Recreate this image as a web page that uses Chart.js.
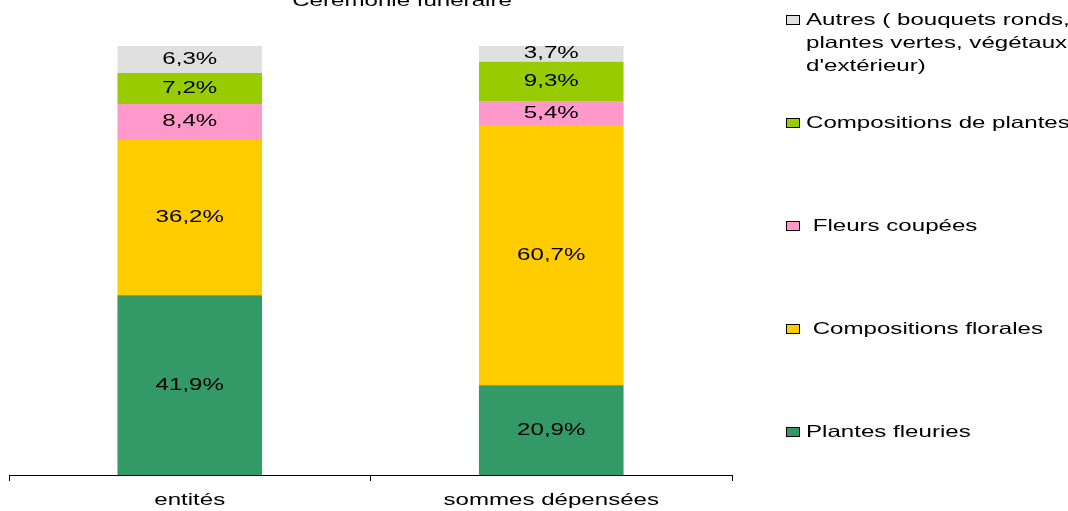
<!DOCTYPE html>
<html>
<head>
<meta charset="utf-8">
<script src="https://cdn.jsdelivr.net/npm/chart.js@4/dist/chart.umd.min.js"></script>
<style>
  html, body { margin: 0; padding: 0; background: #fff; }
  #wrap { width: 1068px; height: 511px; }
</style>
</head>
<body>
<div id="wrap"><canvas id="chart" width="1068" height="511"></canvas></div>
<script>
const title = "Cérémonie funéraire";
const categories = ["entités", "sommes dépensées"];

// series (bottom of the stack first)
const plantesFleuries = [41.9, 20.9];
const compositionsFlorales = [36.2, 60.7];
const fleursCoupees = [8.4, 5.4];
const compositionsPlantes = [7.2, 9.3];
const autres = [6.3, 3.7];

const seriesLabels = [
  ["Plantes fleuries"],
  [" Compositions florales"],
  [" Fleurs coupées"],
  ["Compositions de plantes"],
  ["Autres ( bouquets ronds,", "plantes vertes, végétaux", "d'extérieur)"],
];
const seriesColors = ["#339966", "#FFCC00", "#FF99CC", "#99CC00", "#E0E0E0"];
const seriesValues = [plantesFleuries, compositionsFlorales, fleursCoupees, compositionsPlantes, autres];

// the reference text is stretched sideways
const SX = 1.46;
const FONT = "16.5px 'Liberation Sans', Arial, sans-serif";

function stretchedText(ctx, text, x, y, align) {
  ctx.save();
  ctx.translate(x, y);
  ctx.scale(SX, 1);
  ctx.textAlign = align;
  ctx.fillText(text, 0, 0);
  ctx.restore();
}

function fmt(v) {
  return v.toFixed(1).replace(".", ",") + "%";
}

const textPlugin = {
  id: "texts",
  afterDraw(chart) {
    const ctx = chart.ctx;
    ctx.save();
    ctx.font = FONT;
    ctx.fillStyle = "#000";

    // title (cut at the top like the reference)
    ctx.textBaseline = "alphabetic";
    stretchedText(ctx, title, 402, 6, "center");

    // category labels
    const xs = chart.scales.x;
    ctx.textBaseline = "middle";
    categories.forEach((c, i) => {
      stretchedText(ctx, c, xs.getPixelForValue(i), 500, "center");
    });

    // values in the bars
    chart.data.datasets.forEach((ds, di) => {
      const meta = chart.getDatasetMeta(di);
      meta.data.forEach((bar, i) => {
        const y = (bar.y + bar.base) / 2;
        stretchedText(ctx, fmt(ds.data[i]), bar.x, y, "center");
      });
    });

    // legend, top of stack first
    const items = chart.data.datasets.slice().reverse();
    items.forEach((ds, i) => {
      const y0 = 20 + i * 103;
      ctx.fillStyle = ds.backgroundColor;
      ctx.fillRect(786.5, y0 - 4.5, 13, 9);
      ctx.strokeStyle = "#000";
      ctx.lineWidth = 1;
      ctx.strokeRect(786.5, y0 - 4.5, 13, 9);
      ctx.fillStyle = "#000";
      ds.label.forEach((line, li) => {
        stretchedText(ctx, line, 806, y0 + li * 23, "left");
      });
    });
    ctx.restore();
  },
};

new Chart(document.getElementById("chart"), {
  type: "bar",
  data: {
    labels: categories,
    datasets: seriesValues.map((vals, i) => ({
      label: seriesLabels[i],
      data: vals,
      backgroundColor: seriesColors[i],
      borderWidth: 0,
      categoryPercentage: 1,
      barPercentage: 0.4,
    })),
  },
  options: {
    responsive: false,
    devicePixelRatio: 1,
    animation: false,
    layout: { padding: { left: 9, right: 336, top: 46, bottom: 0 } },
    plugins: { legend: { display: false }, tooltip: { enabled: false }, title: { display: false } },
    scales: {
      x: {
        stacked: true,
        grid: { display: true, drawOnChartArea: false, drawTicks: true, tickLength: 6, color: "#000", offset: true },
        border: { display: true, color: "#000", width: 1 },
        ticks: { display: false },
        afterFit(scale) { scale.height = 36; },
      },
      y: {
        stacked: true,
        display: false,
        min: 0,
        max: 100,
      },
    },
  },
  plugins: [textPlugin],
});
</script>
</body>
</html>
